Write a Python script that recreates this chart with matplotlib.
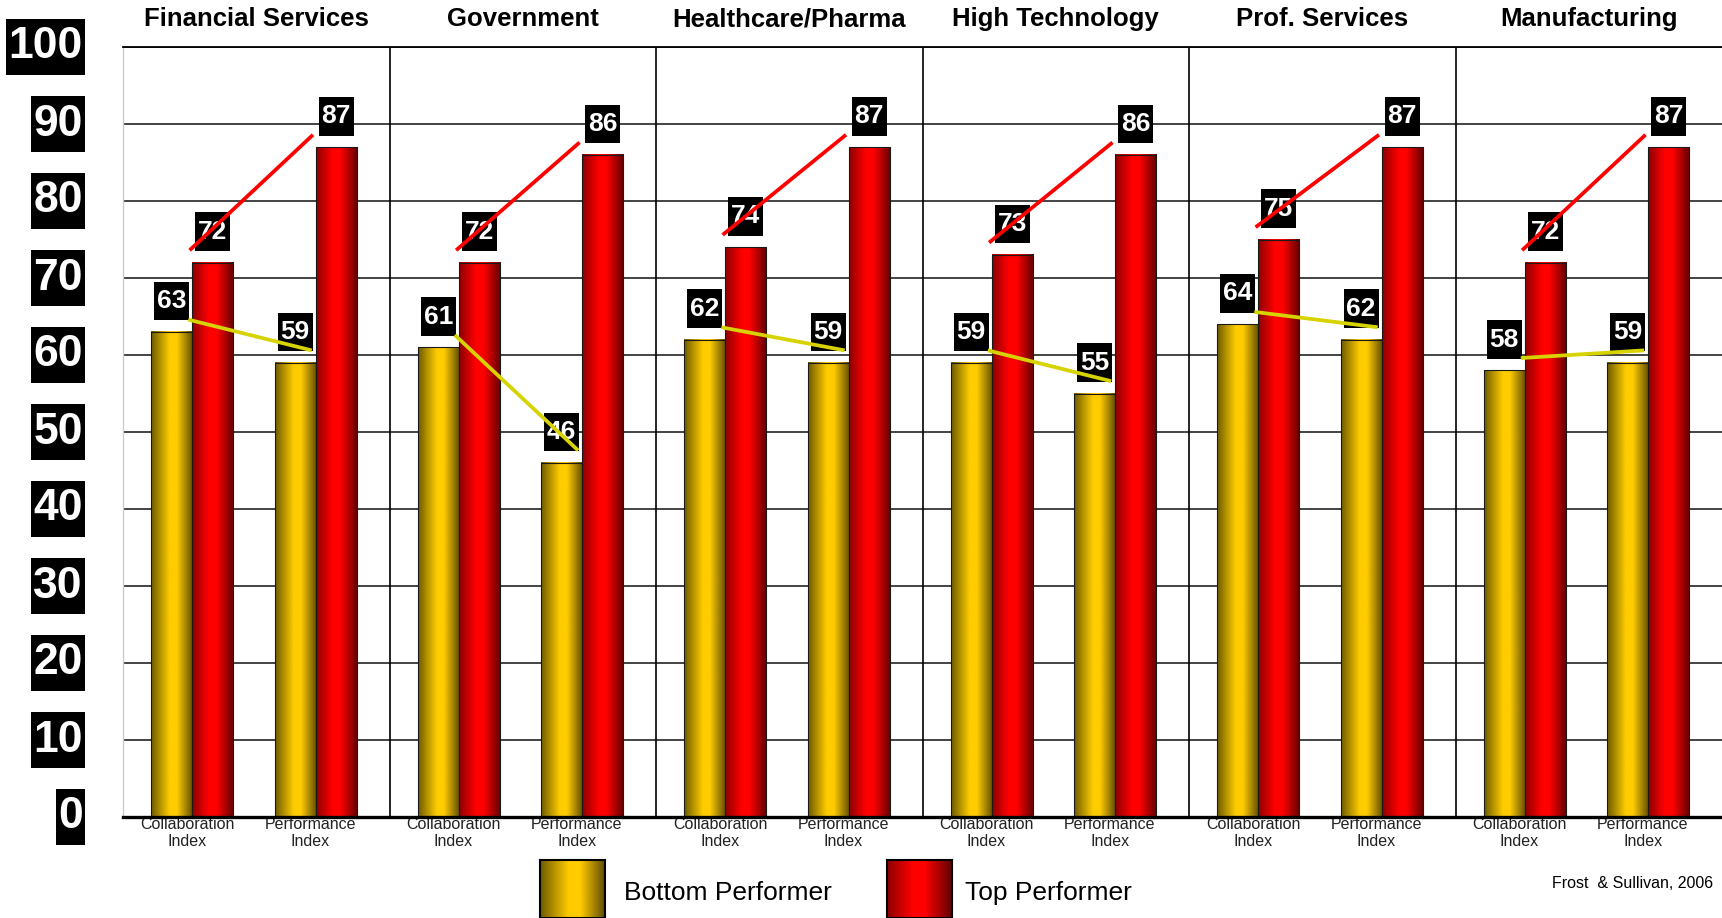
import matplotlib
matplotlib.use("Agg")
import matplotlib.pyplot as plt
import numpy as np
from matplotlib.colors import LinearSegmentedColormap
from matplotlib.path import Path
from matplotlib.transforms import blended_transform_factory

plt.rcParams["font.family"] = ["Liberation Sans", "DejaVu Sans"]

# data
sectors = ["Financial Services", "Government", "Healthcare/Pharma",
           "High Technology", "Prof. Services", "Manufacturing"]
index_labels = ["Collaboration\nIndex", "Performance\nIndex"]
bottom_collab = [63, 61, 62, 59, 64, 58]
top_collab = [72, 72, 74, 73, 75, 72]
bottom_perf = [59, 46, 59, 55, 62, 59]
top_perf = [87, 86, 87, 86, 87, 87]
y_ticks = list(range(0, 101, 10))

GOLD = LinearSegmentedColormap.from_list(
    "gold", [(0, "#6e5a00"), (0.45, "#ffcc00"), (0.62, "#ffcc00"), (1, "#5f4c00")])
RED = LinearSegmentedColormap.from_list(
    "red", [(0, "#8c0000"), (0.4, "#ff0000"), (0.58, "#ff0000"), (1, "#600000")])
GRAD = np.linspace(0, 1, 256)[None, :]


def box_style(padx, pady):
    # square box with separate horizontal / vertical padding
    def _box(x0, y0, width, height, mutation_size):
        px, py = padx * mutation_size, pady * mutation_size
        verts = [(x0 - px, y0 - py), (x0 + width + px, y0 - py),
                 (x0 + width + px, y0 + height + py), (x0 - px, y0 + height + py),
                 (x0 - px, y0 - py)]
        return Path(verts, closed=True)
    return _box


W, H = 1722, 918
fig = plt.figure(figsize=(W / 100, H / 100), dpi=100)
ax = fig.add_axes([123 / W, 1 - 817 / H, 1 - 123 / W, (817 - 47) / H])

n = len(sectors)
panel = np.arange(n)
collab_x = panel + 0.26
perf_x = panel + 0.723
bw = 0.154


def gradient_bars(xs, vals, cmap):
    bars = ax.bar(xs, vals, width=bw, facecolor="none", edgecolor="#1a1a1a",
                  linewidth=0.8, zorder=3)
    for b in bars:
        x0, y0 = b.get_xy()
        ax.imshow(GRAD, cmap=cmap, aspect="auto", interpolation="bilinear",
                  extent=(x0, x0 + b.get_width(), y0, y0 + b.get_height()),
                  zorder=2)
    return bars


gradient_bars(collab_x - bw / 2, bottom_collab, GOLD)
gradient_bars(collab_x + bw / 2, top_collab, RED)
gradient_bars(perf_x - bw / 2, bottom_perf, GOLD)
gradient_bars(perf_x + bw / 2, top_perf, RED)

label_box = dict(boxstyle=box_style(0.11, 0.28), fc="black", ec="none")


def value_labels(xs, vals):
    for x, v in zip(xs, vals):
        ax.text(x, v + 4.0, str(v), ha="center", va="center", color="white",
                fontsize=19, fontweight="bold", bbox=label_box, zorder=5)


value_labels(collab_x - bw / 2, bottom_collab)
value_labels(collab_x + bw / 2, top_collab)
value_labels(perf_x - bw / 2, bottom_perf)
value_labels(perf_x + bw / 2, top_perf)

# connecting lines between the two indices
for i in range(n):
    ax.plot([collab_x[i] - 0.01, perf_x[i] - 0.01],
            [top_collab[i] + 1.6, top_perf[i] + 1.6],
            color="#ff0000", lw=2.7, zorder=6, solid_capstyle="butt")
    ax.plot([collab_x[i] - 0.015, perf_x[i] - 0.015],
            [bottom_collab[i] + 1.6, bottom_perf[i] + 1.6],
            color="#d6d300", lw=2.7, zorder=6, solid_capstyle="butt")

# panel titles
trans = blended_transform_factory(ax.transData, ax.transAxes)
for i, name in enumerate(sectors):
    ax.text(i + 0.5, 1.036, name, transform=trans, ha="center", va="center",
            fontsize=18.5, fontweight="bold")

for i in range(1, n):
    ax.axvline(i, color="black", lw=1.2, zorder=1)

ax.set_xlim(0, n)
ax.set_ylim(0, 100)
ax.set_yticks(y_ticks)
ax.yaxis.grid(True, color="#111111", lw=1.1)
ax.set_axisbelow(True)

xt = np.ravel(np.column_stack([collab_x, perf_x])) - 0.02
ax.set_xticks(xt)
ax.set_xticklabels(index_labels * n)
ax.tick_params(axis="x", length=0, pad=0, labelsize=11.5, labelcolor="#222222")
ax.tick_params(axis="y", length=0, pad=29, labelsize=32)
for t in ax.get_yticklabels():
    t.set_fontweight("bold")
    t.set_color("white")
    t.set_va("center")
    t.set_bbox(dict(boxstyle=box_style(0.045, 0.17), fc="black", ec="none"))

ax.spines["right"].set_visible(False)
ax.spines["top"].set_linewidth(1.3)
ax.spines["bottom"].set_linewidth(2.4)
ax.spines["bottom"].set_zorder(7)
ax.spines["left"].set_color("#cccccc")
ax.spines["left"].set_linewidth(1.0)

# legend
for left, cmap, label, tx in [(540, GOLD, "Bottom Performer", 624),
                              (887, RED, "Top Performer", 965)]:
    sw = fig.add_axes([left / W, 0.0, 65 / W, 58 / H])
    sw.imshow(GRAD, cmap=cmap, aspect="auto", extent=(0, 1, 0, 1))
    sw.set_xticks([])
    sw.set_yticks([])
    for s in sw.spines.values():
        s.set_linewidth(1.5)
    fig.text(tx / W, 1 - 893 / H, label, fontsize=19, va="center")

fig.text(1713 / W, 1 - 883 / H, "Frost  & Sullivan, 2006", ha="right",
         va="center", fontsize=11.5)

fig.savefig("out.png", dpi=100)
plt.close(fig)
